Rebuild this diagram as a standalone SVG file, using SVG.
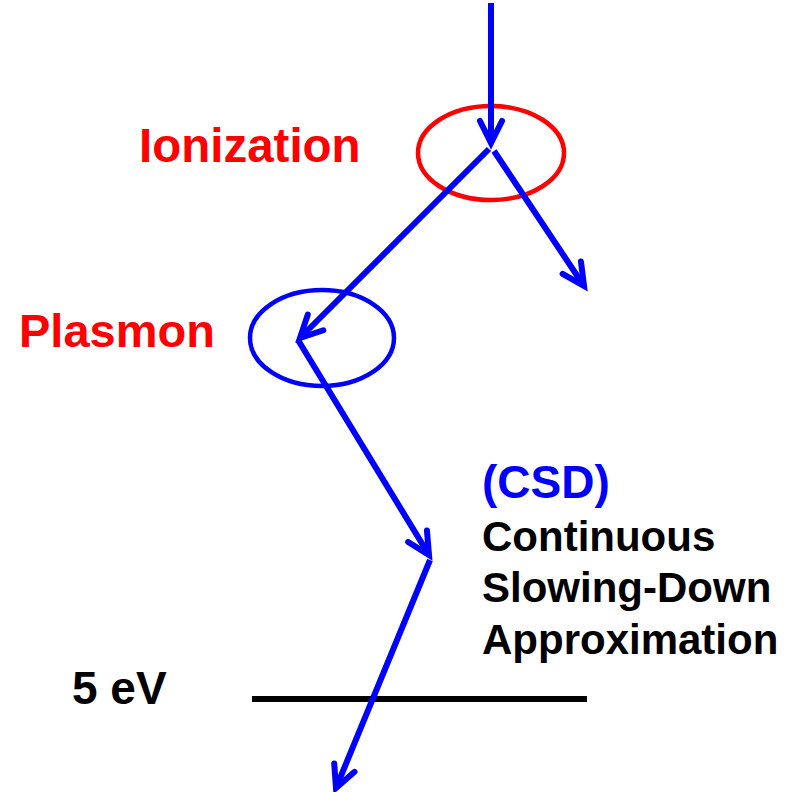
<svg xmlns="http://www.w3.org/2000/svg" width="790" height="792" viewBox="0 0 790 792">
<style>
.lbl{font-family:"Liberation Sans",Arial,sans-serif;font-weight:bold}
.path{stroke:#0000ff;stroke-width:6;fill:none}
</style>
<defs>
<marker id="ah" markerUnits="userSpaceOnUse" markerWidth="40" markerHeight="40" viewBox="-30 -20 40 40" refX="0" refY="0" orient="auto">
<path d="M-22,-11 L0,0 L-22,11" fill="none" stroke="#0000ff" stroke-width="6" stroke-linecap="round" stroke-linejoin="miter"/>
</marker>
</defs>
<rect width="790" height="792" fill="#fff"/>
<g id="ionization">
<ellipse cx="491" cy="153" rx="73" ry="47" fill="none" stroke="#ff0000" stroke-width="4.5"/>
<text class="lbl" x="139" y="162" font-size="47.5" fill="#ff0000">Ionization</text>
</g>
<g id="plasmon">
<ellipse cx="322" cy="338" rx="72" ry="48" fill="none" stroke="#0000ff" stroke-width="4.5"/>
<text class="lbl" x="19" y="347" font-size="47" fill="#ff0000">Plasmon</text>
</g>
<g id="csd">
<text class="lbl" x="482" y="498" font-size="46" fill="#0000ff">(CSD)</text>
<text class="lbl" x="482" y="551" font-size="42" fill="#000">Continuous</text>
<text class="lbl" x="482" y="602" font-size="42" fill="#000">Slowing-Down</text>
<text class="lbl" x="482" y="654" font-size="42" fill="#000">Approximation</text>
</g>
<g id="threshold">
<line x1="252" y1="699" x2="587" y2="699" stroke="#000" stroke-width="6"/>
<text class="lbl" x="72" y="704" font-size="46" fill="#000">5 eV</text>
</g>
<g id="connectors">
<line class="path" x1="491" y1="3" x2="491" y2="143" marker-end="url(#ah)"/>
<line class="path" x1="489" y1="149" x2="300" y2="338" marker-end="url(#ah)"/>
<line class="path" x1="494" y1="151" x2="584" y2="286" marker-end="url(#ah)"/>
<line class="path" x1="298" y1="340" x2="429" y2="555" marker-end="url(#ah)"/>
<line class="path" x1="430" y1="560" x2="336" y2="788" marker-end="url(#ah)"/>
</g>
</svg>
